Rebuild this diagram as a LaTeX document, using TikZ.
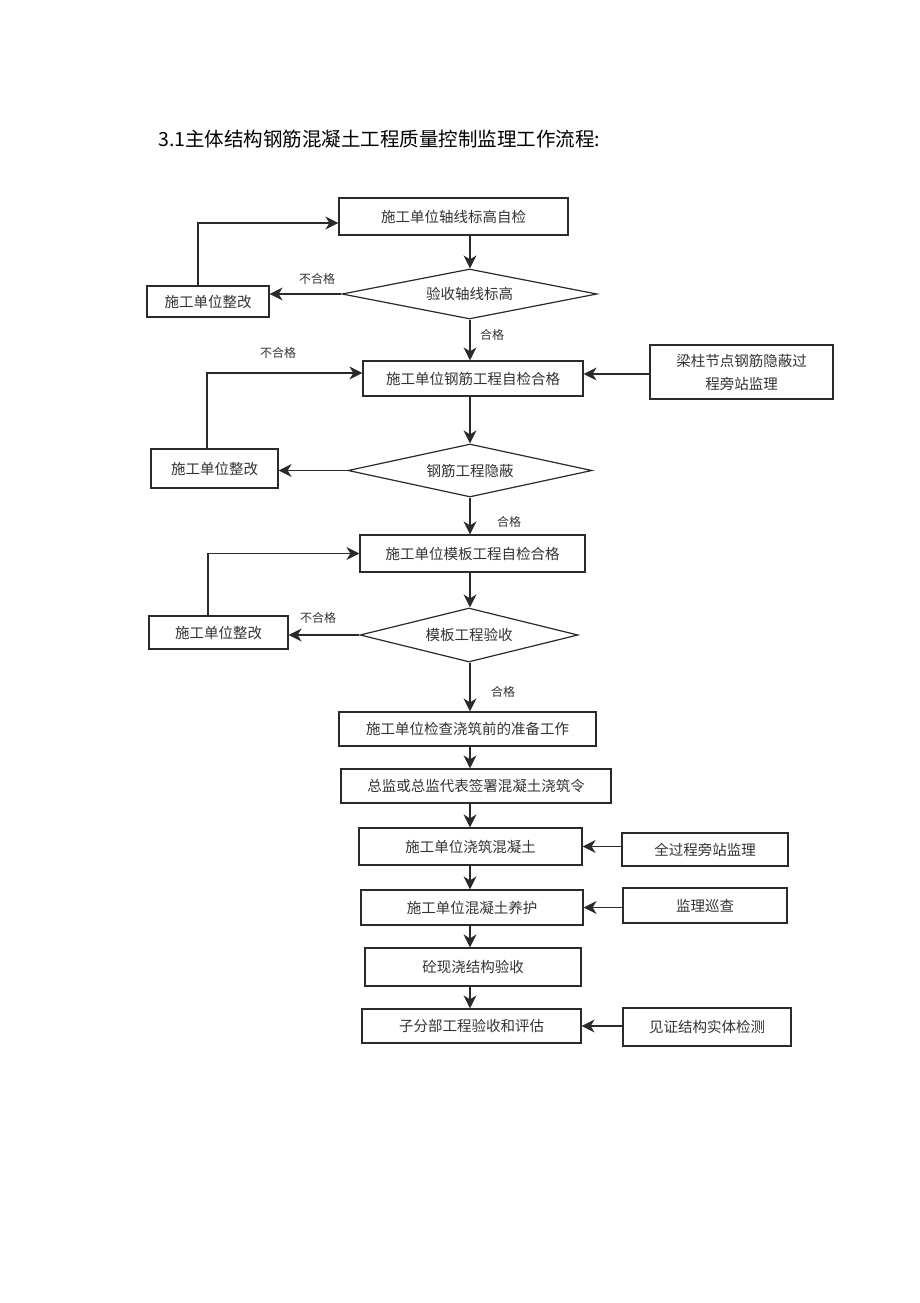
\documentclass[tikz,border=0pt]{standalone}
\usepackage{fontspec}
\setmainfont{Noto Sans CJK SC}
\usetikzlibrary{shapes.geometric,arrows.meta}
\definecolor{ink}{HTML}{2A2A2A}
\definecolor{txt}{HTML}{333333}
\tikzset{
  boxst/.style={draw=ink, line width=1.2pt, inner sep=0pt, text=txt, font=\fontsize{14.5}{17}\selectfont},
  dia/.style={draw=ink, line width=1.2pt, shape=diamond, aspect=5, inner sep=0pt, text=txt, font=\fontsize{14.5}{17}\selectfont},
  arr/.style={draw=ink, line width=1.4pt, -{Stealth[length=13pt,width=13pt,inset=4pt]}},
  lbl/.style={text=txt, font=\fontsize{12}{14}\selectfont, inner sep=0pt}
}
\begin{document}
\begin{tikzpicture}[x=1pt,y=-1pt]
\useasboundingbox[fill=white] (0,0) rectangle (920,1303);
\node[anchor=west, inner sep=0pt, font=\fontsize{19.5}{23}\selectfont] (title) at (158,139) {3.1主体结构钢筋混凝土工程质量控制监理工作流程:};

\node[boxst, minimum width=229pt, minimum height=37pt] (b1) at (453.5,216.5) {施工单位轴线标高自检};
\node[dia, minimum width=255pt, minimum height=50pt] (d1) at (469.5,294) {验收轴线标高};
\node[boxst, minimum width=122pt, minimum height=31pt] (r1) at (208,301.5) {施工单位整改};

\node[boxst, minimum width=220pt, minimum height=35pt] (b2) at (473,378.5) {施工单位钢筋工程自检合格};
\node[boxst, minimum width=183pt, minimum height=54pt, align=center, font=\fontsize{14.5}{23}\selectfont] (s2) at (741.5,372) {梁柱节点钢筋隐蔽过\\程旁站监理};
\node[dia, minimum width=244pt, minimum height=53pt] (d2) at (470,470.5) {钢筋工程隐蔽};
\node[boxst, minimum width=127pt, minimum height=39pt] (r2) at (214.5,468.5) {施工单位整改};

\node[boxst, minimum width=225pt, minimum height=37pt] (b3) at (472.5,553.5) {施工单位模板工程自检合格};
\node[dia, minimum width=218pt, minimum height=54pt] (d3) at (469,635) {模板工程验收};
\node[boxst, minimum width=139pt, minimum height=33pt] (r3) at (218.5,632.5) {施工单位整改};

\node[boxst, minimum width=257pt, minimum height=34pt] (b4) at (467.5,729) {施工单位检查浇筑前的准备工作};
\node[boxst, minimum width=270pt, minimum height=34pt] (b5) at (476,786) {总监或总监代表签署混凝土浇筑令};
\node[boxst, minimum width=223pt, minimum height=37pt] (b6) at (470.5,846.5) {施工单位浇筑混凝土};
\node[boxst, minimum width=166pt, minimum height=33pt] (s6) at (705,849.5) {全过程旁站监理};
\node[boxst, minimum width=222pt, minimum height=35pt] (b7) at (472,907.5) {施工单位混凝土养护};
\node[boxst, minimum width=164pt, minimum height=35pt] (s7) at (705,905.5) {监理巡查};
\node[boxst, minimum width=216pt, minimum height=38pt] (b8) at (473,967) {砼现浇结构验收};
\node[boxst, minimum width=219pt, minimum height=34pt] (b9) at (471.5,1026) {子分部工程验收和评估};
\node[boxst, minimum width=168pt, minimum height=38pt] (s9) at (707,1027) {见证结构实体检测};

\coordinate (col) at (470,0);

% top block
\draw[arr] (col |- b1.south) -- (col |- d1.north);
\draw[arr] (d1.west) -- (d1.west -| r1.east);
\node[lbl] (n1) at (317,279) {不合格};
\draw[arr] ([xshift=-10pt]r1.north) |- ([yshift=-6.5pt]b1.west);
\draw[arr] (col |- d1.south) -- (col |- b2.north);
\node[lbl] (p1) at (492,335) {合格};

% second block
\draw[arr] (s2.west |- 0,374) -- (b2.east |- 0,374);
\draw[arr] ([xshift=-7.5pt]r2.north) |- ([yshift=5.5pt]b2.west);
\node[lbl] (n2) at (278,353) {不合格};
\draw[arr] (col |- b2.south) -- (col |- d2.north);
\draw[arr] (d2.west) -- (d2.west -| r2.east);
\draw[arr] (col |- d2.south) -- (col |- b3.north);
\node[lbl] (p2) at (509,522) {合格};

% third block
\draw[arr] ([xshift=-10.5pt]r3.north) |- (b3.west);
\draw[arr] (col |- b3.south) -- (col |- d3.north);
\draw[arr] (d3.west) -- (d3.west -| r3.east);
\node[lbl] (n3) at (318,618) {不合格};
\draw[arr] (col |- d3.south) -- (col |- b4.north);
\node[lbl] (p3) at (503,692) {合格};

% lower chain
\draw[arr] (col |- b4.south) -- (col |- b5.north);
\draw[arr] (col |- b5.south) -- (col |- b6.north);
\draw[arr] (s6.west |- b6.east) -- (b6.east);
\draw[arr] (col |- b6.south) -- (col |- b7.north);
\draw[arr] (s7.west |- b7.east) -- (b7.east);
\draw[arr] (col |- b7.south) -- (col |- b8.north);
\draw[arr] (col |- b8.south) -- (col |- b9.north);
\draw[arr] (s9.west |- b9.east) -- (b9.east);
\end{tikzpicture}
\end{document}
